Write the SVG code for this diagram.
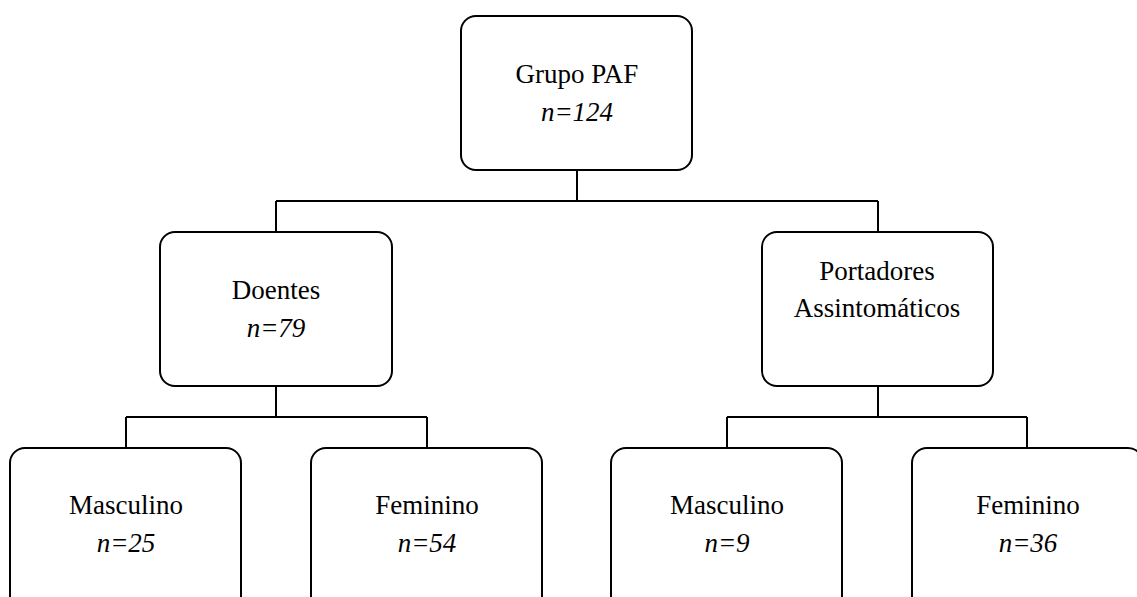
<svg xmlns="http://www.w3.org/2000/svg" width="1137" height="597" viewBox="0 0 1137 597">
<style>
.box{fill:#fff;stroke:#000;stroke-width:2}
.ln{stroke:#000;stroke-width:2;fill:none}
text{font-family:"Liberation Serif","Times New Roman",serif;font-size:27px;fill:#000;text-anchor:middle}
.it{font-style:italic}
</style>
<rect width="1137" height="597" fill="#fff"/>
<g id="connectors">
<path class="ln" d="M577 170V201M276 201H878M276 201V232M878 201V232"/>
<path class="ln" d="M276 386V417M126 417H427M126 417V448M427 417V448"/>
<path class="ln" d="M878 386V417M727 417H1027M727 417V448M1027 417V448"/>
</g>
<g id="grupo">
<rect class="box" x="461" y="16" width="231" height="154" rx="15"/>
<text x="577" y="83">Grupo PAF</text>
<text class="it" x="577" y="121">n=124</text>
</g>
<g id="doentes">
<rect class="box" x="160" y="232" width="232" height="154" rx="15"/>
<text x="276" y="299">Doentes</text>
<text class="it" x="276" y="337">n=79</text>
</g>
<g id="portadores">
<rect class="box" x="762" y="232" width="231" height="154" rx="15"/>
<text x="877" y="280">Portadores</text>
<text x="877" y="317">Assintomáticos</text>
</g>
<g id="masc1">
<rect class="box" x="10" y="448" width="231" height="170" rx="15"/>
<text x="126" y="514">Masculino</text>
<text class="it" x="126" y="552">n=25</text>
</g>
<g id="fem1">
<rect class="box" x="311" y="448" width="231" height="170" rx="15"/>
<text x="427" y="514">Feminino</text>
<text class="it" x="427" y="552">n=54</text>
</g>
<g id="masc2">
<rect class="box" x="611" y="448" width="231" height="170" rx="15"/>
<text x="727" y="514">Masculino</text>
<text class="it" x="727" y="552">n=9</text>
</g>
<g id="fem2">
<rect class="box" x="912" y="448" width="231" height="170" rx="15"/>
<text x="1028" y="514">Feminino</text>
<text class="it" x="1028" y="552">n=36</text>
</g>
</svg>
